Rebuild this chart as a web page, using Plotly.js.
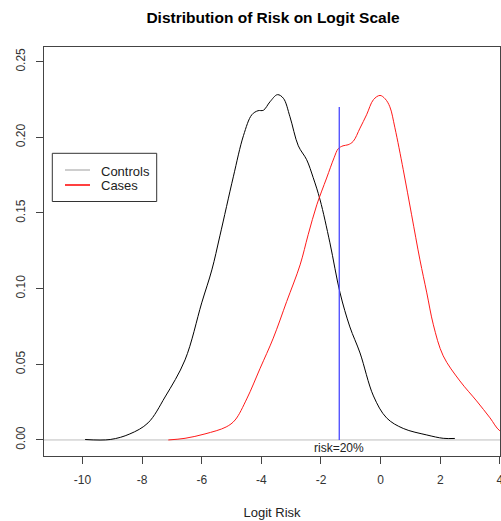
<!DOCTYPE html>
<html>
<head>
<meta charset="utf-8">
<script src="https://cdn.plot.ly/plotly-3.0.1.min.js"></script>
<style>html,body{margin:0;padding:0;background:#fff;}#chart{width:501px;height:521px;}</style>
</head>
<body>
<div id="chart"></div>
<script>
// ---- data ----
const seriesNames = ['Controls', 'Cases'];
const controlsX = [-9.91, -9.07, -8.41, -7.80, -7.23, -6.56, -6.00, -5.66, -5.39, -4.94, -4.60, -4.32, -4.11, -3.93, -3.71, -3.46, -3.26, -3.04, -2.76, -2.48, -2.26, -2.03, -1.70, -1.36, -1.03, -0.69, -0.24, 0.20, 0.76, 1.55, 2.10, 2.49];
const controlsY = [0.0003, 0.0003, 0.0040, 0.0113, 0.0284, 0.0529, 0.0906, 0.1124, 0.1349, 0.1739, 0.2011, 0.2149, 0.2176, 0.2179, 0.2235, 0.2282, 0.2258, 0.2136, 0.1944, 0.1852, 0.1733, 0.1587, 0.1303, 0.0972, 0.0747, 0.0575, 0.0291, 0.0146, 0.0076, 0.0033, 0.0011, 0.0010];
const casesX = [-7.12, -6.56, -5.89, -5.18, -4.88, -4.49, -4.04, -3.60, -3.15, -2.70, -2.43, -2.14, -1.81, -1.56, -1.42, -1.26, -1.09, -0.92, -0.69, -0.47, -0.24, -0.02, 0.15, 0.31, 0.48, 0.76, 1.04, 1.32, 1.55, 1.77, 2.10, 2.66, 3.22, 3.67, 4.00, 4.51];
const casesY = [0.0000, 0.0011, 0.0040, 0.0086, 0.0132, 0.0271, 0.0474, 0.0673, 0.0915, 0.1157, 0.1356, 0.1554, 0.1731, 0.1865, 0.1925, 0.1944, 0.1951, 0.1973, 0.2061, 0.2149, 0.2249, 0.2277, 0.2255, 0.2202, 0.2063, 0.1786, 0.1488, 0.1190, 0.0972, 0.0761, 0.0556, 0.0390, 0.0258, 0.0146, 0.0060, 0.0015];
const riskCut = 0.2;
const cutLabel = 'risk=20%';
const cutLineY = [0, 0.22];
const xTicks = [-10, -8, -6, -4, -2, 0, 2, 4];
const yTicks = [0.00, 0.05, 0.10, 0.15, 0.20, 0.25];
const yTickText = ['0.00', '0.05', '0.10', '0.15', '0.20', '0.25'];

// ---- derived ----
const cutLogit = Math.log(riskCut / (1 - riskCut));
const cutLineX = [cutLogit, cutLogit];

// ---- layout geometry ----
const W = 501, H = 521, ML = 44, MR = 1, MT = 47, MB = 65;
const pw = W - ML - MR, ph = H - MT - MB;
const px = v => (v - ML) / pw;
const py = v => (H - MB - v) / ph;
const FONT = 'Liberation Sans, Arial, sans-serif';

const traces = [
  {x: controlsX, y: controlsY, type: 'scatter', mode: 'lines', name: seriesNames[0],
   line: {color: '#000000', width: 1, shape: 'spline', smoothing: 1}, showlegend: false},
  {x: casesX, y: casesY, type: 'scatter', mode: 'lines', name: seriesNames[1],
   line: {color: '#FF1a1a', width: 1, shape: 'spline', smoothing: 1}, showlegend: false},
  {x: cutLineX, y: cutLineY, type: 'scatter', mode: 'lines', name: cutLabel,
   line: {color: '#4848FF', width: 1.3}, showlegend: false}
];

const legendColors = ['#BEBEBE', '#FF0000'];
const legendRowsY = [170, 185];

const shapes = [
  {type: 'line', xref: 'paper', yref: 'y', x0: 0, x1: 1, y0: 0, y1: 0,
   line: {color: '#BEBEBE', width: 1}, layer: 'below'},
  {type: 'rect', xref: 'paper', yref: 'paper', x0: px(52.3), x1: px(156.7), y0: py(153.3), y1: py(201.5),
   line: {color: '#333333', width: 1}, fillcolor: 'rgba(255,255,255,1)'}
];
const annotations = [
  {x: cutLogit, y: 0, xref: 'x', yref: 'y', text: cutLabel, showarrow: false,
   xanchor: 'center', yanchor: 'top', yshift: 1, font: {family: FONT, size: 12, color: '#222'}}
];
seriesNames.forEach((n, i) => {
  shapes.push({type: 'line', xref: 'paper', yref: 'paper', x0: px(65), x1: px(90),
    y0: py(legendRowsY[i]), y1: py(legendRowsY[i]), line: {color: legendColors[i], width: 1.5}});
  annotations.push({x: px(99), y: py(legendRowsY[i] + 1), xref: 'paper', yref: 'paper', text: n,
    showarrow: false, xanchor: 'left', yanchor: 'middle', font: {family: FONT, size: 13, color: '#222'}});
});

const layout = {
  width: W, height: H,
  margin: {l: ML, r: MR, t: MT, b: MB, pad: 0},
  paper_bgcolor: '#fff', plot_bgcolor: '#fff',
  showlegend: false,
  title: {text: 'Distribution of Risk on Logit Scale', x: 273 / W, xanchor: 'center',
          y: 1 - 18 / H, yanchor: 'middle', yref: 'container',
          font: {family: FONT, size: 15.5, weight: 'bold', color: '#000'}},
  xaxis: {range: [-11.29, 4.005], tickvals: xTicks, ticktext: xTicks.map(String),
          showgrid: false, zeroline: false, showline: true, mirror: true,
          linecolor: '#444', linewidth: 1, ticks: 'outside', ticklen: 7, tickcolor: '#444',
          ticklabelstandoff: 6, ticklabeloverflow: 'allow',
          tickfont: {family: FONT, size: 12, color: '#333'},
          title: {text: 'Logit Risk', standoff: 21, font: {family: FONT, size: 13, color: '#222'}},
          automargin: false, fixedrange: true},
  yaxis: {range: [-0.0106, 0.2597], tickvals: yTicks, ticktext: yTickText, tickangle: -90,
          showgrid: false, zeroline: false, showline: true, mirror: true,
          linecolor: '#444', linewidth: 1, ticks: 'outside', ticklen: 7, tickcolor: '#444',
          ticklabelstandoff: 6,
          tickfont: {family: FONT, size: 12, color: '#333'},
          automargin: false, fixedrange: true},
  shapes: shapes,
  annotations: annotations
};

Plotly.newPlot('chart', traces, layout, {staticPlot: true, displayModeBar: false});
</script>
</body>
</html>
